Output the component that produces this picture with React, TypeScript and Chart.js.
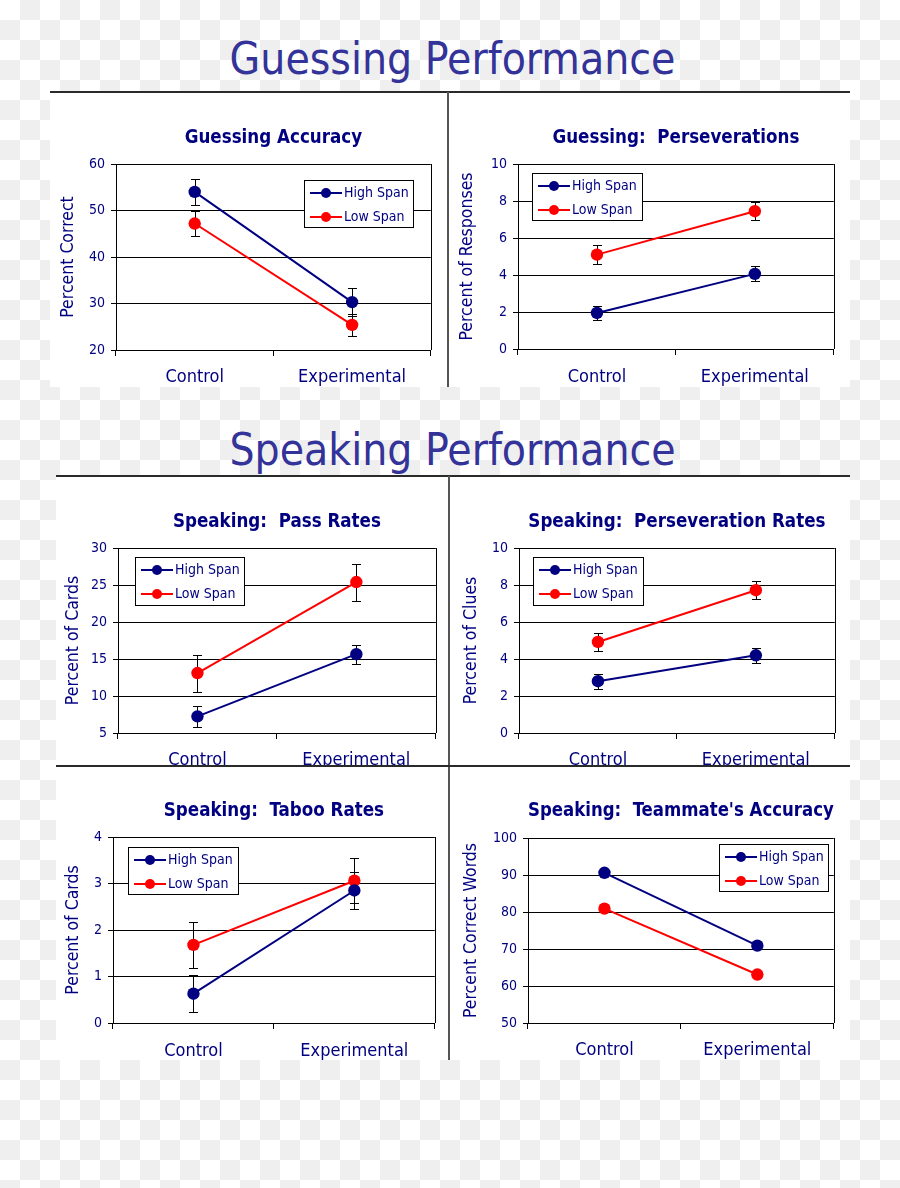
import React, { useEffect, useRef } from 'react';
import { Chart, registerables } from 'chart.js';

Chart.register(...registerables);

const FONT = "'DejaVu Sans Condensed', 'DejaVu Sans', sans-serif";
const NAVY = '#000080';
const RED = '#ff0000';

// ---------- data ----------
const categories = ['Control', 'Experimental'];
const seriesNames = ['High Span', 'Low Span'];

// Guessing Accuracy
const accHigh = [54.0, 30.3];
const accLow = [47.2, 25.4];
const accHighErr = [2.85, 3.05];
const accLowErr = [2.6, 2.4];
const accAxis = [20, 60, 10];

// Guessing: Perseverations
const gpHigh = [1.95, 4.06];
const gpLow = [5.1, 7.45];
const gpHighErr = [0.36, 0.4];
const gpLowErr = [0.5, 0.48];
const gpAxis = [0, 10, 2];

// Speaking: Pass Rates
const passHigh = [7.25, 15.65];
const passLow = [13.1, 25.4];
const passHighErr = [1.4, 1.3];
const passLowErr = [2.5, 2.5];
const passAxis = [5, 30, 5];

// Speaking: Perseveration Rates
const spHigh = [2.8, 4.2];
const spLow = [4.92, 7.72];
const spHighErr = [0.4, 0.42];
const spLowErr = [0.48, 0.48];
const spAxis = [0, 10, 2];

// Speaking: Taboo Rates
const tabHigh = [0.63, 2.85];
const tabLow = [1.68, 3.06];
const tabHighErr = [0.4, 0.4];
const tabLowErr = [0.5, 0.48];
const tabAxis = [0, 4, 1];

// Speaking: Teammate's Accuracy
const tmHigh = [90.6, 70.9];
const tmLow = [80.9, 63.1];
const tmAxis = [50, 100, 10];

// ---------- chart definitions ----------
type Spec = {
  title: string;
  yTitle: string;
  high: number[];
  low: number[];
  highErr?: number[];
  lowErr?: number[];
  axis: number[];
  // layout (page pixels)
  plotL: number; plotR: number; plotT: number; plotB: number;
  titleY: number; yTitleX: number; catY: number; bottom: number;
  legend: number[]; // left, top, width, height
};

const SPECS: Spec[] = [
  {
    title: 'Guessing Accuracy', yTitle: 'Percent Correct',
    high: accHigh, low: accLow, highErr: accHighErr, lowErr: accLowErr, axis: accAxis,
    plotL: 116, plotR: 433, plotT: 164, plotB: 350,
    titleY: 138.6, yTitleX: 68.3, catY: 377.3, bottom: 395,
    legend: [304, 180, 110, 48],
  },
  {
    title: 'Guessing:  Perseverations', yTitle: 'Percent of Responses',
    high: gpHigh, low: gpLow, highErr: gpHighErr, lowErr: gpLowErr, axis: gpAxis,
    plotL: 518, plotR: 836, plotT: 164, plotB: 349,
    titleY: 138, yTitleX: 467.5, catY: 377.3, bottom: 395,
    legend: [532, 173, 111, 48],
  },
  {
    title: 'Speaking:  Pass Rates', yTitle: 'Percent of Cards',
    high: passHigh, low: passLow, highErr: passHighErr, lowErr: passLowErr, axis: passAxis,
    plotL: 118, plotR: 438, plotT: 548, plotB: 733,
    titleY: 522.3, yTitleX: 73.3, catY: 760.4, bottom: 766,
    legend: [135, 557, 110, 49],
  },
  {
    title: 'Speaking:  Perseveration Rates', yTitle: 'Percent of Clues',
    high: spHigh, low: spLow, highErr: spHighErr, lowErr: spLowErr, axis: spAxis,
    plotL: 519, plotR: 837, plotT: 548, plotB: 733,
    titleY: 522.3, yTitleX: 471.7, catY: 760.4, bottom: 766,
    legend: [533, 557, 111, 49],
  },
  {
    title: 'Speaking:  Taboo Rates', yTitle: 'Percent of Cards',
    high: tabHigh, low: tabLow, highErr: tabHighErr, lowErr: tabLowErr, axis: tabAxis,
    plotL: 113, plotR: 437, plotT: 837, plotB: 1023,
    titleY: 811.3, yTitleX: 73.3, catY: 1051, bottom: 1080,
    legend: [128, 847, 111, 48],
  },
  {
    title: "Speaking:  Teammate's Accuracy", yTitle: 'Percent Correct Words',
    high: tmHigh, low: tmLow, axis: tmAxis,
    plotL: 528, plotR: 836, plotT: 838, plotB: 1023,
    titleY: 811.3, yTitleX: 471.7, catY: 1050.6, bottom: 1080,
    legend: [719, 844, 110, 48],
  },
];

const TITLE_SIZE = 18.6;
const TITLE_LH = TITLE_SIZE * 1.2;
const YT_SIZE = 17.5;
const YT_LH = YT_SIZE * 1.2;
const CAT_SIZE = 18;
const CAT_LH = CAT_SIZE * 1.2;
const X_TICK = 6;

function geom(s: Spec) {
  const x0 = Math.floor(s.yTitleX - YT_LH / 2) - 2;
  const yTitlePad = s.yTitleX - YT_LH / 2 - x0;
  const y0 = Math.floor(s.titleY - TITLE_LH / 2) - 2;
  const titlePadTop = s.titleY - TITLE_LH / 2 - y0;
  const titlePadBottom = s.plotT - y0 - titlePadTop - TITLE_LH;
  const w = Math.ceil(s.plotR + 4 - x0);
  const pr = x0 + w - s.plotR;
  const h = s.bottom - y0;
  const xH = s.bottom - s.plotB;
  const yW = s.plotL - x0;
  const catPad = s.catY - s.plotB - X_TICK - CAT_LH / 2;
  return { x0, y0, w, h, pr, xH, yW, yTitlePad, titlePadTop, titlePadBottom, catPad };
}

// error bars + right border of the plot area
const errorBarPlugin = {
  id: 'errorBars',
  beforeDatasetsDraw(chart: any) {
    const { ctx, chartArea } = chart;
    const yScale = chart.scales.y;
    ctx.save();
    ctx.strokeStyle = '#000';
    ctx.lineWidth = 1;
    ctx.beginPath();
    const rx = Math.round(chartArea.right) + 0.5;
    ctx.moveTo(rx, chartArea.top);
    ctx.lineTo(rx, chartArea.bottom);
    ctx.stroke();
    chart.data.datasets.forEach((ds: any, di: number) => {
      if (!ds.errors) return;
      const meta = chart.getDatasetMeta(di);
      ds.data.forEach((v: number, i: number) => {
        const e = ds.errors[i];
        const pt = meta.data[i];
        const x = Math.round(pt.x) + 0.5;
        const yt = Math.round(yScale.getPixelForValue(v + e)) + 0.5;
        const yb = Math.round(yScale.getPixelForValue(v - e)) + 0.5;
        ctx.beginPath();
        ctx.moveTo(x, yt);
        ctx.lineTo(x, yb);
        ctx.moveTo(x - 4.5, yt);
        ctx.lineTo(x + 4.5, yt);
        ctx.moveTo(x - 4.5, yb);
        ctx.lineTo(x + 4.5, yb);
        ctx.stroke();
      });
    });
    ctx.restore();
  },
};

// boxed legend placed inside the plot
const boxLegendPlugin = {
  id: 'boxLegend',
  afterDraw(chart: any, _args: any, opts: any) {
    const { ctx } = chart;
    const [x, y, w, h] = opts.box;
    ctx.save();
    ctx.fillStyle = '#fff';
    ctx.fillRect(x, y, w, h);
    ctx.strokeStyle = '#000';
    ctx.lineWidth = 1;
    ctx.strokeRect(Math.round(x) + 0.5, Math.round(y) + 0.5, Math.round(w) - 1, Math.round(h) - 1);
    chart.data.datasets.forEach((ds: any, i: number) => {
      const cy = y + 13 + i * 24;
      ctx.strokeStyle = ds.borderColor;
      ctx.lineWidth = 2;
      ctx.beginPath();
      ctx.moveTo(x + 6, cy);
      ctx.lineTo(x + 38, cy);
      ctx.stroke();
      ctx.fillStyle = ds.borderColor;
      ctx.beginPath();
      ctx.arc(x + 22, cy, 5, 0, Math.PI * 2);
      ctx.fill();
      ctx.fillStyle = NAVY;
      ctx.font = `14px ${FONT}`;
      ctx.textBaseline = 'middle';
      ctx.textAlign = 'left';
      ctx.fillText(ds.label, x + 40, cy);
    });
    ctx.restore();
  },
};

function LineChart({ spec }: { spec: Spec }) {
  const ref = useRef<HTMLCanvasElement>(null);
  const g = geom(spec);
  useEffect(() => {
    if (!ref.current) return;
    const [ymin, ymax, ystep] = spec.axis;
    const mk = (label: string, data: number[], color: string, errors?: number[]) => ({
      label,
      data,
      errors,
      borderColor: color,
      backgroundColor: color,
      pointBackgroundColor: color,
      pointBorderColor: color,
      borderWidth: 2,
      pointRadius: 6.2,
      pointHoverRadius: 6.2,
      pointBorderWidth: 0,
      tension: 0,
      clip: false,
    });
    const chart = new Chart(ref.current, {
      type: 'line',
      data: {
        labels: categories,
        datasets: [
          mk(seriesNames[0], spec.high, NAVY, spec.highErr),
          mk(seriesNames[1], spec.low, RED, spec.lowErr),
        ] as any,
      },
      plugins: [errorBarPlugin, boxLegendPlugin],
      options: {
        responsive: false,
        animation: false,
        devicePixelRatio: 1,
        events: [],
        layout: { padding: { left: 0, right: g.pr, top: 0, bottom: 0 } },
        plugins: {
          legend: { display: false },
          tooltip: { enabled: false },
          title: {
            display: true,
            text: spec.title,
            color: NAVY,
            fullSize: false,
            font: { family: FONT, size: TITLE_SIZE, weight: 'bold', lineHeight: 1.2 },
            padding: { top: g.titlePadTop, bottom: g.titlePadBottom },
          },
          boxLegend: { box: [spec.legend[0] - g.x0, spec.legend[1] - g.y0, spec.legend[2], spec.legend[3]] },
        } as any,
        scales: {
          x: {
            type: 'category',
            offset: true,
            grid: { offset: true, drawOnChartArea: false, drawTicks: true, tickLength: X_TICK, color: '#000', lineWidth: 1 },
            border: { display: true, color: '#000', width: 1 },
            ticks: { color: NAVY, font: { family: FONT, size: CAT_SIZE, lineHeight: 1.2 }, padding: g.catPad, maxRotation: 0, autoSkip: false },
            afterFit: (scale: any) => { scale.height = g.xH; },
          },
          y: {
            min: ymin,
            max: ymax,
            grid: { color: '#000', lineWidth: 1, drawTicks: true, tickLength: 5 },
            border: { display: true, color: '#000', width: 1 },
            ticks: { stepSize: ystep, color: NAVY, font: { family: FONT, size: 14 }, padding: 6 },
            title: {
              display: true,
              text: spec.yTitle,
              color: NAVY,
              font: { family: FONT, size: YT_SIZE, lineHeight: 1.2 },
              padding: { top: g.yTitlePad, bottom: 0 },
            },
            afterFit: (scale: any) => { scale.width = g.yW; },
          },
        },
      } as any,
    });
    return () => chart.destroy();
  }, []);
  return (
    <canvas
      ref={ref}
      width={g.w}
      height={g.h}
      style={{ position: 'absolute', left: g.x0, top: g.y0, width: g.w, height: g.h }}
    />
  );
}

const bigTitleStyle = (top: number): React.CSSProperties => ({
  position: 'absolute',
  left: 0,
  top,
  width: 905,
  textAlign: 'center',
  fontFamily: FONT,
  fontSize: 44,
  lineHeight: '44px',
  color: '#333399',
  whiteSpace: 'nowrap',
});

const line = (left: number, top: number, width: number, height: number, color: string): React.CSSProperties => ({
  position: 'absolute', left, top, width, height, background: color,
});

export default function App() {
  return (
    <div
      style={{
        position: 'absolute',
        left: 0,
        top: 0,
        width: 900,
        height: 1188,
        overflow: 'hidden',
        background: 'repeating-conic-gradient(#efefef 0% 25%, #ffffff 0% 50%) 0 0 / 40px 40px',
      }}
    >
      <div style={{ position: 'absolute', left: 50, top: 92, width: 800, height: 295, background: '#fff' }} />
      <div style={{ position: 'absolute', left: 56, top: 476, width: 794, height: 584, background: '#fff' }} />
      <div style={bigTitleStyle(37)}>Guessing Performance</div>
      <div style={bigTitleStyle(428)}>Speaking Performance</div>
      {SPECS.map((s, i) => (
        <LineChart key={i} spec={s} />
      ))}
      <div style={line(50, 91, 800, 2, '#2a2a2a')} />
      <div style={line(447, 92, 2, 295, '#555')} />
      <div style={line(56, 475, 794, 2, '#2a2a2a')} />
      <div style={line(448, 476, 2, 584, '#555')} />
      <div style={line(56, 765, 794, 2, '#2a2a2a')} />
    </div>
  );
}
